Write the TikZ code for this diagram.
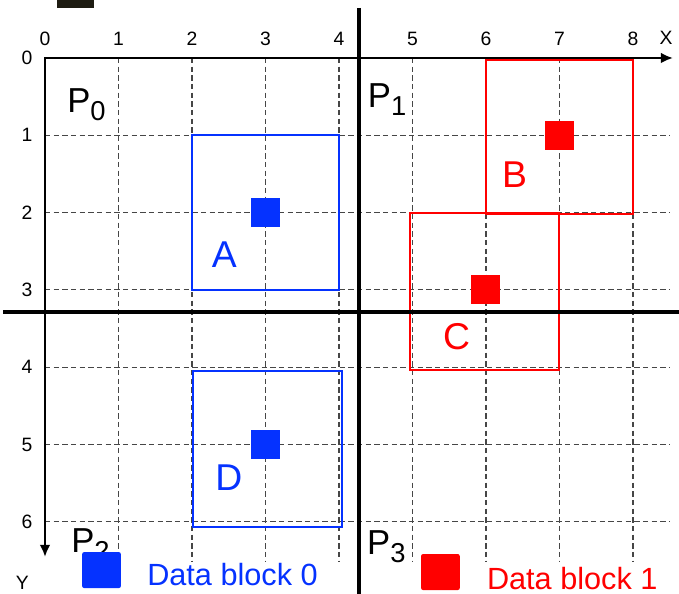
\documentclass[tikz,border=0pt]{standalone}
\usepackage{fontspec}
\setmainfont{Liberation Sans}
\usetikzlibrary{arrows.meta, positioning}
\definecolor{blockblue}{RGB}{5,50,255}
\definecolor{blockred}{RGB}{255,0,0}
\definecolor{griddash}{RGB}{70,70,70}
\definecolor{inkbar}{RGB}{30,28,18}
\tikzset{%
	gridline/.style={
		draw=griddash,
		dash pattern=on 4pt off 2.5pt,
		line width=0.9pt
	},
	axisline/.style={
		line width=2.2pt,
		line join=miter,
		{Latex[length=9pt,width=8pt]}-{Latex[length=9pt,width=8pt]}
	},
	divider/.style={line width=2.6pt},
	ticklabel/.style={font=\fontsize{14.5}{16}\selectfont, inner sep=0pt},
	proclabel/.style={font=\fontsize{26}{28}\selectfont, inner sep=0pt, anchor=base west},
	blocklabel/.style={font=\fontsize{28}{30}\selectfont, inner sep=0pt},
	datasq/.style={rectangle, minimum width=21.75pt, minimum height=21.75pt, inner sep=0pt},
	keysq/.style={rectangle, rounded corners=1.5pt, minimum width=29pt, minimum height=27pt, inner sep=0pt},
	keytext/.style={font=\fontsize{23}{25}\selectfont, inner sep=0pt, anchor=base west},
}
\newcommand{\proc}[1]{P\raisebox{-6pt}{\fontsize{20.5}{21}\selectfont #1}}

\begin{document}
\begin{tikzpicture}[x=55.125pt, y=-57.975pt]
			\useasboundingbox (-0.6122,-0.7503) rectangle (8.6259,6.9340);
			
			% Dark bar at the top edge
			\fill[inkbar] (0.163,-0.7503) rectangle (0.667,-0.647);
			
			% Draw the dashed grid
			\foreach \x in {1,...,8}
				\draw[gridline] (\x,0) -- (\x,6.52);
			\foreach \y in {1,...,6}
				\draw[gridline] (0,\y) -- (8.5,\y);
			
			% Draw the blocks of data block 0
			\draw[blockblue, line width=1.5pt] (2,1) rectangle (4,3);
			\draw[blockblue, line width=1.5pt] (2.01,4.05) rectangle (4.04,6.07);
			\node[datasq, fill=blockblue] (sqA) at (3,2) {};
			\node[datasq, fill=blockblue] (sqD) at (3,5) {};
			
			% Draw the blocks of data block 1
			\draw[blockred, line width=1.5pt] (6,0.02) rectangle (8,2.02);
			\draw[blockred, line width=1.5pt] (4.97,2) rectangle (7,4.04);
			\node[datasq, fill=blockred] (sqB) at (7,1) {};
			\node[datasq, fill=blockred] (sqC) at (6,3) {};
			
			% Split into four parts
			\draw[divider] (4.272,-0.647) -- (4.272,6.934);
			\draw[divider] (-0.57,3.286) -- (8.626,3.286);
			
			% Draw the axes
			\coordinate (origin) at (0,0);
			\coordinate (xend) at (8.544,0);
			\coordinate (yend) at (0,6.455);
			\draw[axisline] (xend) -- (origin) -- (yend);
			
			% Tick labels
			\foreach \x in {0,...,8}
				\node[ticklabel] (xt\x) at (\x,-0.25) {\x};
			\foreach \y in {0,...,6}
				\node[ticklabel] (yt\y) at (-0.245,\y) {\y};
			\node[ticklabel] (xlab) at (8.45,-0.26) {X};
			\node[ticklabel] (ylab) at (-0.31,6.79) {Y};
			
			% Processor names
			\node[proclabel] (p0) at (0.30,0.70) {\proc{0}};
			\node[proclabel] (p1) at (4.39,0.634) {\proc{1}};
			\node[proclabel] (p2) at (0.354,6.40) {\proc{2}};
			\node[proclabel] (p3) at (4.38,6.42) {\proc{3}};
			
			% Block names
			\node[blocklabel, text=blockblue] (nameA) at (2.44,2.55) {A};
			\node[blocklabel, text=blockred] (nameB) at (6.39,1.51) {B};
			\node[blocklabel, text=blockred] (nameC) at (5.60,3.61) {C};
			\node[blocklabel, text=blockblue] (nameD) at (2.50,5.43) {D};
			
			% Legend
			\node[keysq, fill=blockblue] (key0) at (0.769,6.625) {};
			\node[keytext, text=blockblue] (keytext0) at (1.388,6.83) {Data block 0};
			\node[keysq, fill=blockred] (key1) at (5.38,6.65) {};
			\node[keytext, text=blockred] (keytext1) at (6.01,6.88) {Data block 1};
			
		\end{tikzpicture}
\end{document}
